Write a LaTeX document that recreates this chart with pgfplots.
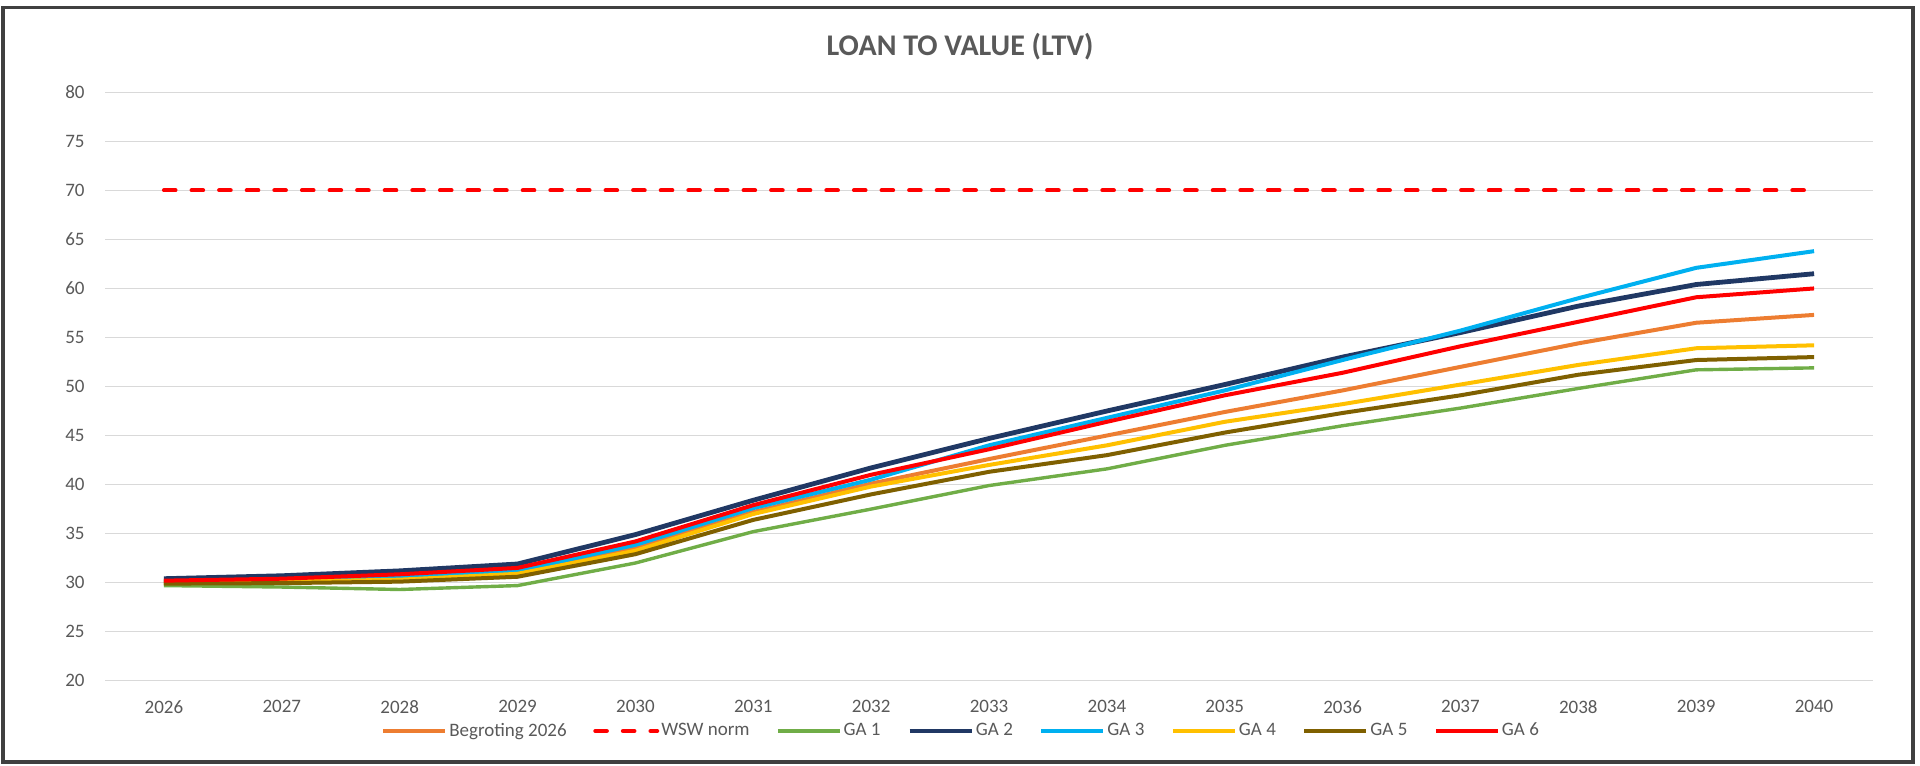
\documentclass[border=0pt]{standalone}
\usepackage{fontspec}
\setmainfont{Carlito}
\usepackage{pgfplots}
\pgfplotsset{compat=1.18}
\definecolor{txtgray}{HTML}{595959}
\definecolor{gridgray}{HTML}{D9D9D9}
\definecolor{framegray}{HTML}{404040}
\definecolor{cBeg}{HTML}{ED7D31}
\definecolor{cGA1}{HTML}{70AD47}
\definecolor{cGA2}{HTML}{203864}
\definecolor{cGA3}{HTML}{00B0F0}
\definecolor{cGA4}{HTML}{FFC000}
\definecolor{cGA5}{HTML}{7F6000}
\definecolor{cGA6}{HTML}{FF0000}
\begin{document}
\begin{tikzpicture}
\useasboundingbox (0pt,0pt) rectangle (960pt,382.5pt);
\draw[line width=1.75pt, framegray] (1.6pt,1.6pt) rectangle (956.5pt,378.8pt);
\node[text=txtgray, font=\fontsize{15}{18}\selectfont\bfseries] at (480pt,359.3pt) {LOAN TO VALUE (LTV)};
\begin{axis}[
  at={(52.5pt,42.15pt)}, anchor=south west,
  scale only axis, width=884pt, height=294.2pt,
  xmin=-0.5, xmax=14.5, ymin=20, ymax=80,
  xtick={0,1,2,3,4,5,6,7,8,9,10,11,12,13,14},
  xticklabels={2026,2027,2028,2029,2030,2031,2032,2033,2034,2035,2036,2037,2038,2039,2040},
  ytick={20,25,30,35,40,45,50,55,60,65,70,75,80},
  ymajorgrids, grid style={draw=gridgray, line width=0.75pt},
  axis line style={draw=none}, tick style={draw=none},
  /pgf/number format/assume math mode=true,
  ticklabel style={font=\fontsize{9.5}{11}\selectfont, text=txtgray},
  yticklabel style={anchor=east, inner sep=0pt, xshift=-10pt},
  xticklabel style={anchor=north, inner sep=0pt, yshift=-9.6pt},
  legend columns=-1,
  legend style={at={(0.4842,-0.0855)}, anchor=center, draw=none, fill=none,
    font=\fontsize{9.5}{11}\selectfont, text=txtgray,
    nodes={inner xsep=1pt, inner ysep=0pt},
    /tikz/every even column/.append style={column sep=12.3pt}},
  legend image code/.code={\draw[#1] (0pt,0pt) -- (31pt,0pt);},
  every axis plot/.append style={line join=round},
]
\addplot[cBeg, line width=2pt] coordinates {(0,30.0) (1,30.2) (2,30.4) (3,30.9) (4,33.5) (5,37.2) (6,40.1) (7,42.6) (8,45.0) (9,47.4) (10,49.6) (11,52.0) (12,54.4) (13,56.5) (14,57.3)};
\addlegendentry{Begroting 2026}
\addplot[cGA6, line width=2pt, line cap=round, dash pattern=on 5.8pt off 8pt] coordinates {(0,70) (1,70) (2,70) (3,70) (4,70) (5,70) (6,70) (7,70) (8,70) (9,70) (10,70) (11,70) (12,70) (13,70) (14,70)};
\addlegendentry{WSW norm}
\addplot[cGA1, line width=1.7pt] coordinates {(0,29.7) (1,29.55) (2,29.3) (3,29.7) (4,32.0) (5,35.2) (6,37.5) (7,39.9) (8,41.6) (9,44.0) (10,46.0) (11,47.8) (12,49.8) (13,51.7) (14,51.9)};
\addlegendentry{GA 1}
\addplot[cGA2, line width=2.4pt] coordinates {(0,30.4) (1,30.7) (2,31.2) (3,31.9) (4,34.9) (5,38.4) (6,41.7) (7,44.7) (8,47.5) (9,50.2) (10,53.0) (11,55.5) (12,58.2) (13,60.4) (14,61.5)};
\addlegendentry{GA 2}
\addplot[cGA3, line width=2pt] coordinates {(0,30.1) (1,30.3) (2,30.6) (3,31.2) (4,33.85) (5,37.6) (6,40.5) (7,44.0) (8,46.8) (9,49.6) (10,52.7) (11,55.7) (12,59.0) (13,62.1) (14,63.8)};
\addlegendentry{GA 3}
\addplot[cGA4, line width=2pt] coordinates {(0,30.0) (1,30.1) (2,30.3) (3,30.9) (4,33.25) (5,37.0) (6,39.8) (7,42.0) (8,44.0) (9,46.4) (10,48.2) (11,50.2) (12,52.2) (13,53.9) (14,54.2)};
\addlegendentry{GA 4}
\addplot[cGA5, line width=2pt] coordinates {(0,29.9) (1,29.95) (2,30.1) (3,30.6) (4,32.9) (5,36.4) (6,39.0) (7,41.3) (8,43.0) (9,45.3) (10,47.3) (11,49.1) (12,51.2) (13,52.7) (14,53.0)};
\addlegendentry{GA 5}
\addplot[cGA6, line width=2pt] coordinates {(0,30.2) (1,30.4) (2,30.85) (3,31.5) (4,34.2) (5,37.9) (6,41.0) (7,43.6) (8,46.4) (9,49.1) (10,51.4) (11,54.1) (12,56.6) (13,59.1) (14,60.0)};
\addlegendentry{GA 6}
\end{axis}
\end{tikzpicture}
\end{document}
